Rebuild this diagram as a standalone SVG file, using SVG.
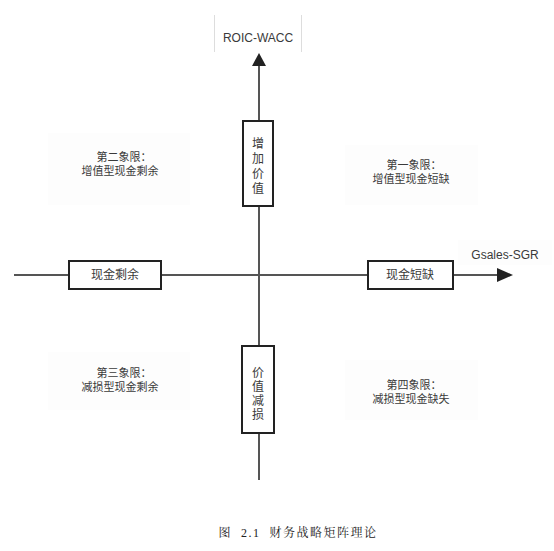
<svg xmlns="http://www.w3.org/2000/svg" width="554" height="551" viewBox="0 0 554 551">
<style>
.cn{font-family:"Liberation Sans","Noto Sans CJK SC",sans-serif;fill:#3a3a3a;}
.q{font-size:11px;text-anchor:middle;}
.b{font-size:12px;text-anchor:middle;}
.box{fill:#fff;stroke:#222;stroke-width:2;}
.bg{fill:#fdfdfd;stroke:none;}
.ax{stroke:#555;stroke-width:2;fill:none;}
</style>
<rect width="554" height="551" fill="#fff"/>
<g id="connectors">
<path class="ax" d="M259,480 L259,64"/>
<path d="M252,66 L259,53 L266,66 Z" fill="#222"/>
<path class="ax" d="M14,275 L499,275"/>
<path d="M497,268 L513,275 L497,282 Z" fill="#222"/>
</g>
<g id="yLabel">
<line x1="214.5" y1="15" x2="214.5" y2="52" stroke="#ddd"/>
<line x1="301.5" y1="15" x2="301.5" y2="52" stroke="#ddd"/>
<text class="cn b" x="258" y="42">ROIC-WACC</text>
</g>
<g id="xLabel">
<rect class="bg" x="458" y="240" width="94" height="25"/>
<text class="cn b" x="505" y="259">Gsales-SGR</text>
</g>
<g id="q2">
<rect class="bg" x="48" y="133" width="142" height="72"/>
<text class="cn q" x="124" y="161">第二象限：</text>
<text class="cn q" x="120" y="175">增值型现金剩余</text>
</g>
<g id="q1">
<rect class="bg" x="345" y="145" width="133" height="60"/>
<text class="cn q" x="414" y="169">第一象限：</text>
<text class="cn q" x="411" y="183">增值型现金短缺</text>
</g>
<g id="q3">
<rect class="bg" x="48" y="352" width="142" height="58"/>
<text class="cn q" x="124" y="377">第三象限：</text>
<text class="cn q" x="120" y="391">减损型现金剩余</text>
</g>
<g id="q4">
<rect class="bg" x="345" y="360" width="133" height="60"/>
<text class="cn q" x="414" y="389">第四象限：</text>
<text class="cn q" x="411" y="403">减损型现金缺失</text>
</g>
<g id="up">
<rect class="box" x="243" y="121" width="30" height="85"/>
<text class="cn b" x="258" y="148">增</text>
<text class="cn b" x="258" y="163">加</text>
<text class="cn b" x="258" y="178">价</text>
<text class="cn b" x="258" y="193">值</text>
</g>
<g id="down">
<rect class="box" x="242" y="346" width="32" height="87"/>
<text class="cn b" x="258" y="377">价</text>
<text class="cn b" x="258" y="391">值</text>
<text class="cn b" x="258" y="405">减</text>
<text class="cn b" x="258" y="419">损</text>
</g>
<g id="left">
<rect class="box" x="69" y="261" width="92" height="28"/>
<text class="cn b" x="115" y="279">现金剩余</text>
</g>
<g id="right">
<rect class="box" x="368" y="261" width="85" height="28"/>
<text class="cn b" x="410" y="279">现金短缺</text>
</g>
<text x="298" y="537" font-family="Liberation Serif,'Noto Serif CJK SC','Noto Sans CJK SC',serif" font-size="12" letter-spacing="1.5" text-anchor="middle" fill="#222" xml:space="preserve">图  2.1  财务战略矩阵理论</text>
</svg>
